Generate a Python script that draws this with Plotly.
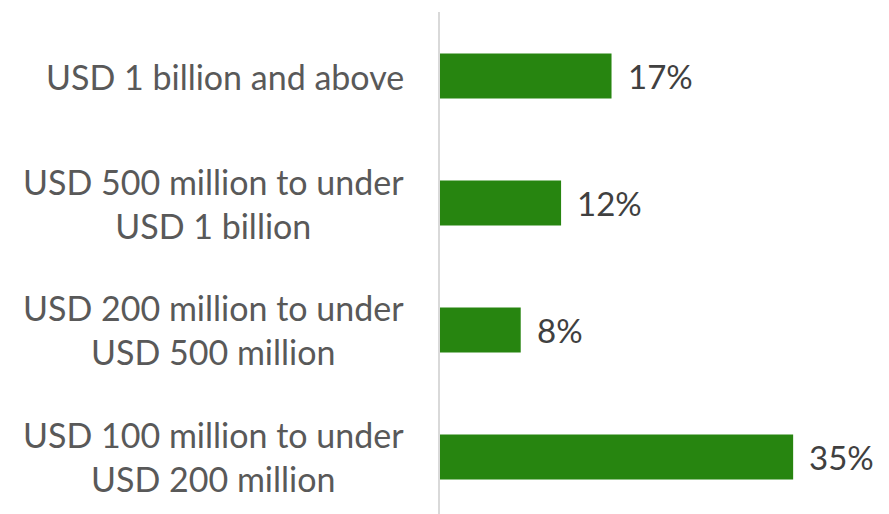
import plotly.graph_objects as go

# Share of respondents by company revenue band
categories = [
    "USD 1 billion and above",
    "USD 500 million to under<br>USD 1 billion",
    "USD 200 million to under<br>USD 500 million",
    "USD 100 million to under<br>USD 200 million",
]
values = [17, 12, 8, 35]
value_labels = ["17%", "12%", "8%", "35%"]

bar_color = "#278510"
font_family = "Lato, 'Open Sans', sans-serif"

fig = go.Figure(
    go.Bar(
        x=values,
        y=categories,
        orientation="h",
        marker=dict(color=bar_color, line=dict(width=0)),
        width=0.355,
        hoverinfo="skip",
    )
)

annotations = []
# Category labels, centred multi-line text to the left of the axis
for cat in categories:
    annotations.append(dict(
        x=0, xref="paper", y=cat, yref="y",
        text=cat, showarrow=False,
        xanchor="right", yanchor="middle", align="center",
        xshift=-34,
        font=dict(family=font_family, size=34, color="#595959"),
    ))
# Value labels just past the end of each bar
for cat, v, lab in zip(categories, values, value_labels):
    annotations.append(dict(
        x=v, xref="x", y=cat, yref="y",
        text=lab, showarrow=False,
        xanchor="left", yanchor="middle",
        xshift=14,
        font=dict(family=font_family, size=33, color="#404040"),
    ))

fig.update_layout(
    width=889, height=514,
    margin=dict(l=440, r=0, t=12, b=0),
    paper_bgcolor="white", plot_bgcolor="white",
    showlegend=False,
    annotations=annotations,
    xaxis=dict(range=[0, 44.5], visible=False, fixedrange=True),
    yaxis=dict(
        categoryorder="array", categoryarray=categories,
        range=[3.449, -0.504],
        showticklabels=False, ticks="",
        showgrid=False, zeroline=False,
        showline=True, linecolor="#d9d9d9", linewidth=2,
        fixedrange=True,
    ),
)

fig.write_html("out.html")
